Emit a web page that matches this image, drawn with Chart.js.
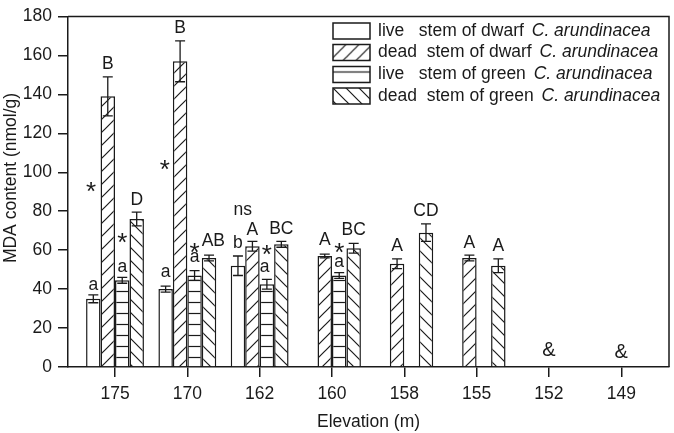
<!DOCTYPE html>
<html>
<head>
<meta charset="utf-8">
<script src="https://cdn.jsdelivr.net/npm/chart.js@4.4.1/dist/chart.umd.min.js"></script>
<style>
  html, body { margin: 0; padding: 0; background: #fff; }
</style>
</head>
<body>
<canvas id="chart" width="674" height="433"></canvas>
<script>
const elevations = ["175", "170", "162", "160", "158", "155", "152", "149"];

const liveDwarf = [35, 40, 52, null, null, null, null, null];
const liveDwarfErr = [2, 1.5, 5, null, null, null, null, null];
const deadDwarf = [139, 157, 62, 57, 53, 56, null, null];
const deadDwarfErr = [10, 10.5, 2.5, 1, 2.5, 1.5, null, null];
const liveGreen = [44.5, 47, 42.5, 47, null, null, null, null];
const liveGreenErr = [1.5, 2.5, 2.5, 1.5, null, null, null, null];
const deadGreen = [76, 56, 63, 61, 69, 52, null, null];
const deadGreenErr = [3.5, 1.5, 1.5, 2.5, 4.5, 3.5, null, null];

const seriesKind = ["live", "dead", "live", "dead"];
const seriesColor = ["dwarf", "dwarf", "green", "green"];
const speciesName = "C. arundinacea";

// [elevation index, bar slot, text, value]
const notes = [
  [0, 0, "a", 41.7], [0, 1, "B", 155.6], [0, -0.15, "*", 92.5],
  [0, 2, "a", 50.8], [0, 2, "*", 66.1], [0, 3, "D", 85.9],
  [1, 0, "a", 48.3], [1, 1, "B", 173.9], [1, -0.05, "*", 103.7],
  [1, 2, "*", 61], [1, 2, "a", 55.9], [1, 3.3, "AB", 64.6],
  [2, 0.33, "ns", 79.8], [2, 0, "b", 63], [2, 1, "A", 70.2],
  [2, 2, "*", 60], [2, 1.85, "a", 50.8], [2, 3, "BC", 70.7],
  [3, 1, "A", 65.1], [3, 2, "*", 61], [3, 2, "a", 53.4], [3, 3, "BC", 70.2],
  [4, 1, "A", 62], [4, 3, "CD", 79.8],
  [5, 1, "A", 63.5], [5, 3, "A", 62],
  [6, 1.5, "&", 8.6], [7, 1.5, "&", 7.6]
];

const FONT = "'Liberation Sans', Arial, sans-serif";
const INK = "#1a1a1a";

function makePattern(kind) {
  const c = document.createElement("canvas");
  const s = kind === "h" ? 11 : 13;
  c.width = kind === "h" ? 8 : s;
  c.height = s;
  const g = c.getContext("2d");
  g.fillStyle = "#fff";
  g.fillRect(0, 0, c.width, c.height);
  g.strokeStyle = INK;
  g.lineWidth = 1.2;
  g.beginPath();
  if (kind === "/") {
    g.moveTo(0, s); g.lineTo(s, 0);
    g.moveTo(-2, 2); g.lineTo(2, -2);
    g.moveTo(s - 2, s + 2); g.lineTo(s + 2, s - 2);
  } else if (kind === "\\") {
    g.moveTo(0, 0); g.lineTo(s, s);
    g.moveTo(-2, s - 2); g.lineTo(2, s + 2);
    g.moveTo(s - 2, -2); g.lineTo(s + 2, 2);
  } else if (kind === "h") {
    g.moveTo(0, 5.5); g.lineTo(c.width, 5.5);
  }
  g.stroke();
  return g.createPattern(c, "repeat");
}

const fills = ["#fff", makePattern("/"), makePattern("h"), makePattern("\\")];
const values = [liveDwarf, deadDwarf, liveGreen, deadGreen];
const errors = [liveDwarfErr, deadDwarfErr, liveGreenErr, deadGreenErr];

const toPoints = arr => arr.map((v, i) => ({ x: i + 1, y: v }));

const decorations = {
  id: "decorations",
  afterDatasetsDraw(chart) {
    const { ctx, chartArea: a, scales: { x, y } } = chart;
    ctx.save();

    // error bars
    ctx.strokeStyle = INK;
    ctx.lineWidth = 1.3;
    values.forEach((arr, d) => {
      const meta = chart.getDatasetMeta(d);
      arr.forEach((v, i) => {
        if (v === null) return;
        const e = errors[d][i];
        const px = meta.data[i].x;
        const top = y.getPixelForValue(v + e);
        const bot = y.getPixelForValue(v - e);
        ctx.beginPath();
        ctx.moveTo(px, top); ctx.lineTo(px, bot);
        ctx.moveTo(px - 5, top); ctx.lineTo(px + 5, top);
        ctx.moveTo(px - 5, bot); ctx.lineTo(px + 5, bot);
        ctx.stroke();
      });
    });

    // significance letters
    ctx.fillStyle = INK;
    ctx.textAlign = "center";
    ctx.textBaseline = "middle";
    notes.forEach(([g, slot, text, v]) => {
      const px = x.getPixelForValue(g + 1 + (slot - 1.5) * 0.2);
      let py = y.getPixelForValue(v);
      if (text === "*") {
        ctx.font = "26px " + FONT;
        py += 6;
      } else if (text === "&") {
        ctx.font = "20px " + FONT;
      } else {
        ctx.font = "17.5px " + FONT;
        if (text === text.toLowerCase()) py -= 1;
      }
      ctx.fillText(text, px, py);
    });

    // frame top and right
    ctx.lineWidth = 1.5;
    ctx.beginPath();
    ctx.moveTo(a.left, a.top); ctx.lineTo(a.right, a.top); ctx.lineTo(a.right, a.bottom);
    ctx.stroke();

    // legend
    const rowY = [31, 52.5, 74.5, 96];
    rowY.forEach((ry, d) => {
      ctx.save();
      ctx.translate(333, ry - 8);
      ctx.fillStyle = fills[d];
      ctx.fillRect(0, 0, 37, 16);
      ctx.lineWidth = 1.5;
      ctx.strokeStyle = INK;
      ctx.strokeRect(0, 0, 37, 16);
      ctx.restore();

      ctx.fillStyle = INK;
      ctx.textAlign = "left";
      ctx.font = "17.5px " + FONT;
      const gap = seriesKind[d] === "live" ? "   " : "  ";
      const plain = seriesKind[d] + gap + "stem of " + seriesColor[d] + " ";
      ctx.fillText(plain, 378, ry);
      const w = ctx.measureText(plain).width;
      ctx.font = "italic 17.5px " + FONT;
      ctx.fillText(speciesName, 378 + w + 3, ry);
    });

    // y axis title
    ctx.save();
    ctx.translate(11, 178);
    ctx.rotate(-Math.PI / 2);
    ctx.font = "17.5px " + FONT;
    ctx.textAlign = "center";
    ctx.fillText("MDA content (nmol/g)", 0, 0);
    ctx.restore();

    ctx.restore();
  }
};

new Chart(document.getElementById("chart"), {
  type: "bar",
  data: {
    datasets: values.map((arr, d) => ({
      label: seriesKind[d] + " stem of " + seriesColor[d] + " " + speciesName,
      data: toPoints(arr),
      backgroundColor: fills[d],
      borderColor: INK,
      borderWidth: 1.5,
      categoryPercentage: 0.8,
      barPercentage: 1.0
    }))
  },
  options: {
    responsive: false,
    animation: false,
    layout: { padding: { top: 13, right: 5, left: 0, bottom: 0 } },
    plugins: {
      legend: { display: false },
      tooltip: { enabled: false }
    },
    scales: {
      x: {
        type: "linear",
        min: 0.35,
        max: 8.66,
        offset: false,
        afterFit: s => { s.height = 66; },
        border: { display: true, color: INK, width: 1.5 },
        grid: { offset: false, drawOnChartArea: false, drawTicks: true, tickLength: 10, color: INK, lineWidth: 1.5 },
        ticks: {
          stepSize: 1,
          includeBounds: false,
          padding: 7,
          color: INK,
          font: { family: FONT, size: 17.5 },
          callback: v => elevations[v - 1] || ""
        },
        title: {
          display: true,
          text: "Elevation (m)",
          color: INK,
          font: { family: FONT, size: 17.5 },
          padding: { top: 0, bottom: 0 }
        }
      },
      y: {
        min: 0,
        max: 180,
        afterFit: s => { s.width = 68; },
        border: { display: true, color: INK, width: 1.5 },
        grid: { drawOnChartArea: false, drawTicks: true, tickLength: 10, color: INK, lineWidth: 1.5 },
        ticks: {
          stepSize: 20,
          padding: 6,
          color: INK,
          font: { family: FONT, size: 17.5 }
        }
      }
    }
  },
  plugins: [decorations]
});
</script>
</body>
</html>
